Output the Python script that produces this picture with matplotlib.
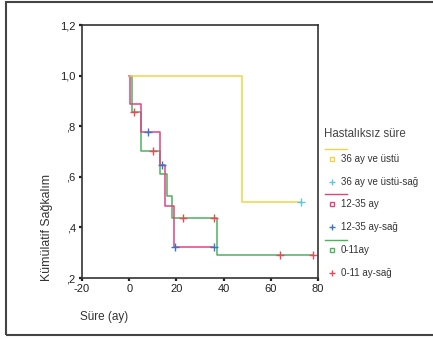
import matplotlib
matplotlib.use("Agg")
import matplotlib.pyplot as plt
from matplotlib.lines import Line2D
from matplotlib.patches import Rectangle

plt.rcParams["font.family"] = ["Liberation Sans", "DejaVu Sans"]
plt.rcParams["axes.unicode_minus"] = False

# survival steps (time, cumulative survival)
yellow_t = [0.5, 48, 73]
yellow_s = [1.0, 0.5, 0.5]
yellow_cens_t = [73]
yellow_cens_s = [0.5]

pink_t = [0, 0.5, 5, 13, 15, 19, 36]
pink_s = [1.0, 0.889, 0.778, 0.648, 0.486, 0.324, 0.324]
pink_cens_t = [8, 14, 19.5, 36]
pink_cens_s = [0.778, 0.648, 0.324, 0.324]

green_t = [0.5, 1, 5, 13, 16, 18, 37, 78]
green_s = [1.0, 0.857, 0.701, 0.613, 0.526, 0.438, 0.292, 0.292]
green_cens_t = [2, 10, 23, 36, 64, 78]
green_cens_s = [0.857, 0.701, 0.438, 0.438, 0.292, 0.292]

x_ticks = [-20, 0, 20, 40, 60, 80]
y_ticks = [0.2, 0.4, 0.6, 0.8, 1.0, 1.2]
y_labels = [",2", ",4", ",6", ",8", "1,0", "1,2"]

c_yellow = "#f2d24a"
c_cyan = "#5cc8e4"
c_pink = "#e0447e"
c_blue = "#3a74c4"
c_green = "#4fb060"
c_red = "#e84a58"

W, H = 433, 339
fig = plt.figure(figsize=(W / 100, H / 100), dpi=100)
ax = fig.add_axes([82 / W, 1 - 278 / H, (318 - 82) / W, (278 - 25) / H])

ax.step(green_t, green_s, where="post", color=c_green, lw=1.1)
ax.step(pink_t, pink_s, where="post", color=c_pink, lw=1.1)
ax.step(yellow_t, yellow_s, where="post", color=c_yellow, lw=1.1)
ax.plot(green_cens_t, green_cens_s, "+", color=c_red, ms=6, mew=1)
ax.plot(pink_cens_t, pink_cens_s, "+", color=c_blue, ms=6, mew=1)
ax.plot(yellow_cens_t, yellow_cens_s, "+", color=c_cyan, ms=6, mew=1)

ax.set_xlim(-20, 80)
ax.set_ylim(0.2, 1.2)
ax.set_xticks(x_ticks)
ax.set_yticks(y_ticks)
ax.set_yticklabels(y_labels)
ax.tick_params(direction="out", length=2.5, width=1.6, labelsize=8, pad=2, colors="#222222")
for s in ax.spines.values():
    s.set_color("#333333")
    s.set_linewidth(1.2)

fig.text(47 / W, 1 - 227 / H, "Kümülatif Sağkalım", rotation=90, ha="center", va="center",
         fontsize=8.8, color="#333333")
fig.text(80 / W, 1 - 317 / H, "Süre (ay)", ha="left", va="center", fontsize=8.5, color="#333333")

# legend drawn by hand, SPSS style
fig.text(324 / W, 1 - 134 / H, "Hastalıksız süre", ha="left", va="center", fontsize=8.3, color="#444444")
groups = [
    (c_yellow, c_cyan, "36 ay ve üstü", "36 ay ve üstü-sağ", 149),
    (c_pink, c_blue, "12-35 ay", "12-35 ay-sağ", 194),
    (c_green, c_red, "0-11ay", "0-11 ay-sağ", 240),
]
for line_c, cens_c, lab, lab_c, y0 in groups:
    fig.add_artist(Line2D([325 / W, 347 / W], [1 - y0 / H, 1 - y0 / H], color=line_c, lw=1))
    fig.add_artist(Line2D([332 / W], [1 - (y0 + 10) / H], marker="s", ms=3, mfc="none",
                          mec=line_c, mew=1, ls="none"))
    fig.text(341 / W, 1 - (y0 + 10) / H, lab, ha="left", va="center", fontsize=7, color="#333333")
    fig.add_artist(Line2D([332 / W], [1 - (y0 + 33) / H], marker="+", ms=5, mec=cens_c,
                          mew=1, ls="none"))
    fig.text(341 / W, 1 - (y0 + 33) / H, lab_c, ha="left", va="center", fontsize=7, color="#333333")

fig.add_artist(Rectangle((6 / W, 1 - 335 / H), (440 - 6) / W, (335 - 2) / H, fill=False,
                         edgecolor="#444444", lw=1.5, transform=fig.transFigure, clip_on=False))

fig.savefig("out.png", dpi=100)
